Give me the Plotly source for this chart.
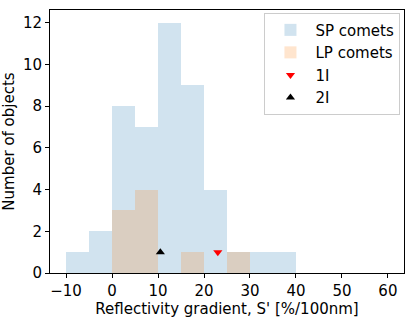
import plotly.graph_objects as go

bin_left = [-10, -5, 0, 5, 10, 15, 20, 25, 30, 35]
sp_counts = [1, 2, 8, 7, 12, 9, 4, 1, 1, 1]
lp_counts = [0, 0, 3, 4, 0, 1, 0, 1, 0, 0]
bin_width = 5

oumuamua_x, oumuamua_y = [23], [1]
borisov_x, borisov_y = [10.5], [1]

x_ticks = [-10, 0, 10, 20, 30, 40, 50, 60]
y_ticks = [0, 2, 4, 6, 8, 10, 12]

centers = [b + bin_width / 2 for b in bin_left]

fig = go.Figure()
fig.add_trace(go.Bar(x=centers, y=sp_counts, width=bin_width, name="SP comets",
                     marker=dict(color="#1f77b4", line_width=0), opacity=0.2))
fig.add_trace(go.Bar(x=centers, y=lp_counts, width=bin_width, name="LP comets",
                     marker=dict(color="#ff7f0e", line_width=0), opacity=0.2))
fig.add_trace(go.Scatter(x=oumuamua_x, y=oumuamua_y, mode="markers", name="1I",
                         marker=dict(symbol="triangle-down", color="red", size=8)))
fig.add_trace(go.Scatter(x=borisov_x, y=borisov_y, mode="markers", name="2I",
                         marker=dict(symbol="triangle-up", color="black", size=8)))

axis_style = dict(showline=True, linecolor="black", linewidth=1, mirror=True,
                  ticks="outside", ticklen=4, tickcolor="black", showgrid=False,
                  zeroline=False, automargin=False, tickfont=dict(size=15, color="black"))

fig.update_layout(
    width=415, height=321,
    barmode="overlay", bargap=0,
    font=dict(family="DejaVu Sans", size=15, color="black"),
    plot_bgcolor="white", paper_bgcolor="white",
    margin=dict(l=50, r=11, t=10, b=48),
    xaxis=dict(range=[-13.5, 63.5], tickvals=x_ticks,
               title=dict(text="Reflectivity gradient, S' [%/100nm]", standoff=2, font=dict(size=15)),
               **axis_style),
    yaxis=dict(range=[0, 12.6], tickvals=y_ticks,
               title=dict(text="Number of objects", standoff=4, font=dict(size=15)),
               **axis_style),
    legend=dict(x=0.99, y=0.99, xanchor="right", yanchor="top",
                bgcolor="rgba(255,255,255,0.8)", bordercolor="#cccccc", borderwidth=1,
                font=dict(size=15), itemwidth=40, tracegroupgap=0),
)

fig.write_html("out.html", config={"displayModeBar": False},
               post_script="document.body.style.margin='0';")
